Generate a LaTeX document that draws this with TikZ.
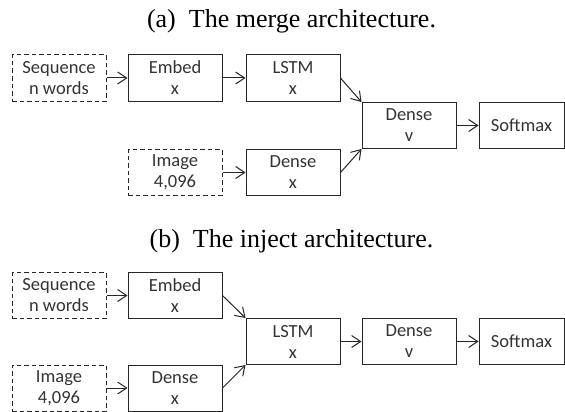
\documentclass[tikz,border=0pt]{standalone}
\usepackage{fontspec}
\setmainfont{Liberation Serif}
\newfontfamily\boxfont{Carlito}
\usetikzlibrary{arrows.meta}
\tikzset{
  blk/.style={draw=black!85, line width=1pt, minimum width=94pt, minimum height=46pt, inner sep=0pt,
    align=center, text=black!80, font=\boxfont\fontsize{18.5}{21}\selectfont},
  inbox/.style={blk, dash pattern=on 4.5pt off 3pt},
  conn/.style={draw=black!85, line width=1pt, -{Straight Barb[length=9pt,width=12pt,line width=1pt]}},
  ttl/.style={font=\fontsize{26}{30}\selectfont, inner sep=0pt}
}
\begin{document}
\begin{tikzpicture}[x=1pt,y=-1pt]
\useasboundingbox (0,0) rectangle (565,412);
% (a)
\node[ttl] (ta) at (291.5,21) {(a)~~The merge architecture.};
\node[inbox] (seqA) at (59,78) {Sequence\\n words};
\node[blk] (embA) at (175,78) {Embed\\x};
\node[blk] (lstmA) at (293,78) {LSTM\\x};
\node[inbox] (imgA) at (175,172.5) {Image\\4,096};
\node[blk] (dxA) at (293,172.5) {Dense\\x};
\node[blk] (dvA) at (409,125.5) {Dense\\v};
\node[blk, minimum width=85pt] (smA) at (521.5,125.5) {Softmax};
\draw[conn] (seqA) -- (embA);
\draw[conn] (embA) -- (lstmA);
\draw[conn] (imgA) -- (dxA);
\draw[conn] (lstmA.east) -- (dvA.north west);
\draw[conn] (dxA.east) -- (dvA.south west);
\draw[conn] (dvA) -- (smA);
% (b)
\node[ttl] (tb) at (291.5,241) {(b)~~The inject architecture.};
\node[inbox] (seqB) at (59,295.5) {Sequence\\n words};
\node[blk] (embB) at (175,295.5) {Embed\\x};
\node[inbox] (imgB) at (59,388) {Image\\4,096};
\node[blk] (dxB) at (175,388) {Dense\\x};
\node[blk] (lstmB) at (293,341.5) {LSTM\\x};
\node[blk] (dvB) at (409,341.5) {Dense\\v};
\node[blk, minimum width=85pt] (smB) at (521.5,341.5) {Softmax};
\draw[conn] (seqB) -- (embB);
\draw[conn] (imgB) -- (dxB);
\draw[conn] (embB.east) -- (lstmB.north west);
\draw[conn] (dxB.east) -- (lstmB.south west);
\draw[conn] (lstmB) -- (dvB);
\draw[conn] (dvB) -- (smB);
\end{tikzpicture}
\end{document}
